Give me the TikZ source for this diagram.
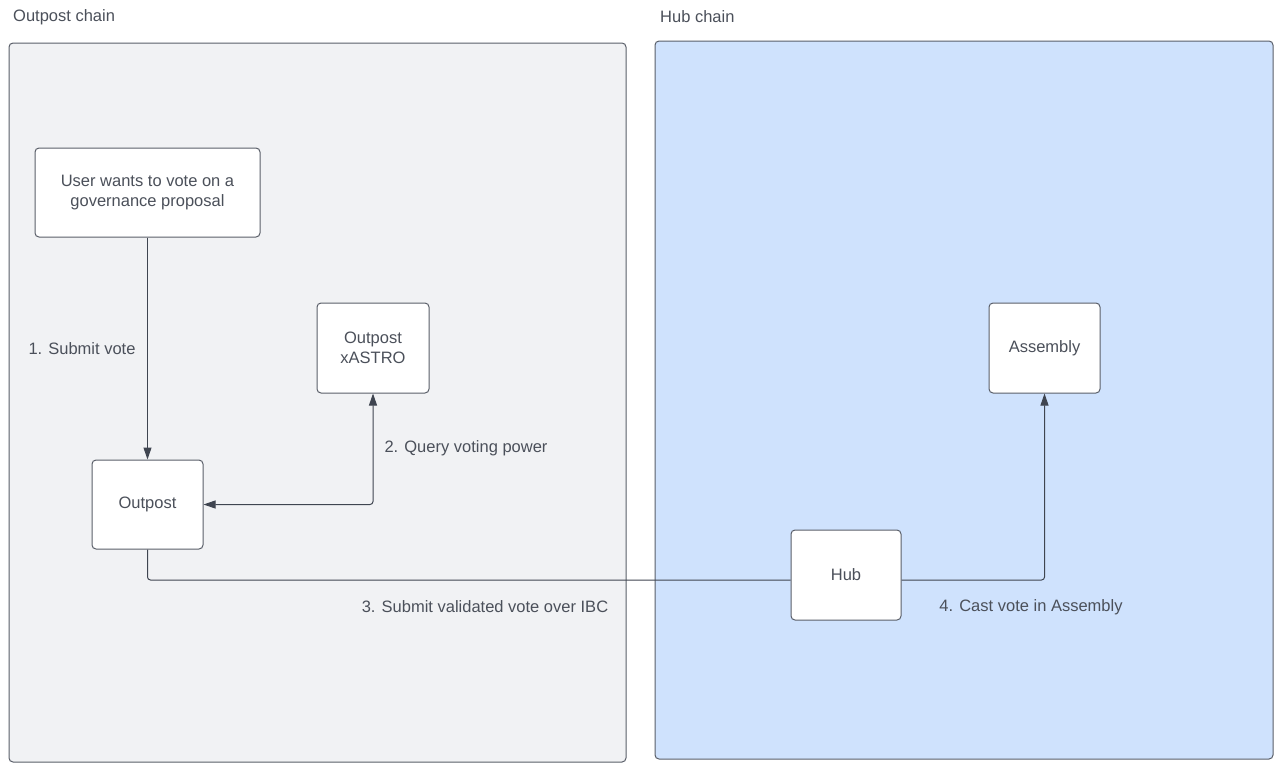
\documentclass[tikz,border=0pt]{standalone}
\usepackage{fontspec}
\setmainfont{Liberation Sans}
\usetikzlibrary{arrows.meta}
\definecolor{txt}{HTML}{4B505A}
\definecolor{edge}{HTML}{5A5F69}
\definecolor{ln}{HTML}{3F4550}
\definecolor{grayfill}{HTML}{F1F2F4}
\definecolor{bluefill}{HTML}{CFE2FD}
\tikzset{
  container/.style={draw=edge, line width=1pt, rounded corners=4pt},
  box/.style={draw=edge, fill=white, line width=1pt, rounded corners=4pt, align=center, text=txt, font=\fontsize{16.5}{19.5}\selectfont, inner sep=0pt},
  lbl/.style={text=txt, font=\fontsize{16.5}{19.5}\selectfont, inner sep=0pt},
  conn/.style={draw=ln, line width=1pt, rounded corners=3pt},
  tip/.style={-{Triangle[width=8pt,length=12pt]}}
}
\begin{document}
\begin{tikzpicture}[x=1pt,y=-1pt]
\useasboundingbox (0,0) rectangle (1284,772);
\fill[white] (0,0) rectangle (1284,772);
% containers
\path[container, fill=grayfill] (9,43) rectangle (626,762);
\path[container, fill=bluefill] (655,41) rectangle (1273,759);
\node[lbl, anchor=west] (t1) at (13,17) {Outpost chain};
\node[lbl, anchor=west] (t2) at (660,17) {Hub chain};
% nodes
\node[box, minimum width=225pt, minimum height=89pt] (user) at (147.5,192.5) {User wants to vote on a\\governance proposal};
\node[box, minimum width=112pt, minimum height=90pt] (xastro) at (373,348) {Outpost\\xASTRO};
\node[box, minimum width=111pt, minimum height=89pt] (outpost) at (147.5,504.5) {Outpost};
\node[box, minimum width=110pt, minimum height=90pt] (hub) at (846,575) {Hub};
\node[box, minimum width=111pt, minimum height=90pt] (assembly) at (1044.5,348) {Assembly};
\coordinate (hubin) at ([yshift=-5pt]hub.west);
\coordinate (hubout) at ([yshift=-5pt]hub.east);
% connectors
\draw[conn, tip] (user.south) -- (outpost.north);
\draw[conn, {Triangle[width=8pt,length=12pt]}-{Triangle[width=8pt,length=12pt]}] (outpost.east) -| (xastro.south);
\draw[conn] (outpost.south) |- (hubin);
\draw[conn, tip] (hubout) -| (assembly.south);
% labels
\node[lbl] (l1) at (82,349) {1. Submit vote};
\node[lbl] (l2) at (466,448) {2. Query voting power};
\node[lbl] (l3) at (485,607) {3. Submit validated vote over IBC};
\node[lbl] (l4) at (1031,607) {4. Cast vote in Assembly};
\end{tikzpicture}
\end{document}
